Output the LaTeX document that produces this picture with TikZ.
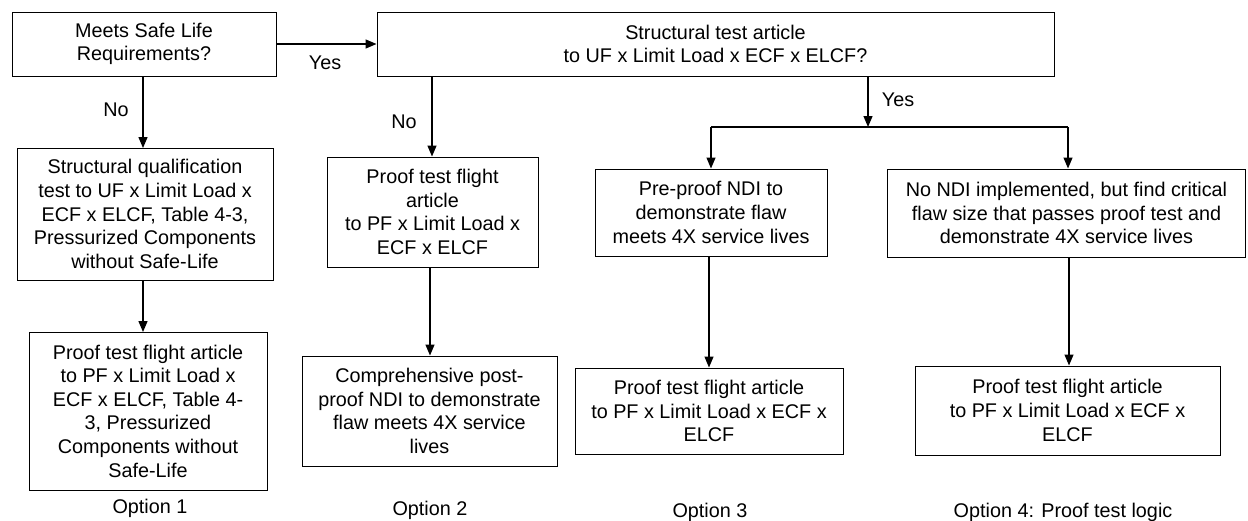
\documentclass[tikz,border=0pt]{standalone}
\usepackage{fontspec}
\setmainfont{Liberation Sans}
\usepackage{tikz}
\usetikzlibrary{arrows.meta,positioning}

\begin{document}
\begin{tikzpicture}[x=1pt,y=-1pt,
                box/.style={draw,line width=1pt,align=center,inner sep=0pt,font=\fontsize{19.8}{23.6}\selectfont},
                lbl/.style={font=\fontsize{19.8}{23.6}\selectfont,inner sep=0pt},
                flow/.style={line width=1.3pt,-{Triangle[length=11pt,width=9pt]}}]
                \useasboundingbox (0,0) rectangle (1248,520);

                % top row
                \node[box,minimum width=264,minimum height=64] (safe) at (144,44) {Meets Safe Life\\Requirements?};
                \node[box,minimum width=677,minimum height=64] (struct) at (715.5,44) {Structural test article\\to UF x Limit Load x ECF x ELCF?};

                % option 1
                \node[box,minimum width=256,minimum height=132] (qual) at (145,214) {Structural qualification\\test to UF x Limit Load x\\ECF x ELCF, Table 4-3,\\Pressurized Components\\without Safe-Life};
                \node[box,minimum width=238,minimum height=158] (proofA) at (148,411) {Proof test flight article\\to PF x Limit Load x\\ECF x ELCF, Table 4-\\3, Pressurized\\Components without\\Safe-Life};

                % option 2
                \node[box,minimum width=211,minimum height=110] (proofB) at (432.5,212) {Proof test flight\\article\\to PF x Limit Load x\\ECF x ELCF};
                \node[box,minimum width=255,minimum height=110] (postB) at (429.5,411) {Comprehensive post-\\proof NDI to demonstrate\\flaw meets 4X service\\lives};

                % option 3
                \node[box,minimum width=232,minimum height=87] (preC) at (711,212.5) {Pre-proof NDI to\\demonstrate flaw\\meets 4X service lives};
                \node[box,minimum width=268,minimum height=86] (proofC) at (709,411) {Proof test flight article\\to PF x Limit Load x ECF x\\ELCF};

                % option 4
                \node[box,minimum width=358,minimum height=88] (noNDI) at (1066.5,213) {No NDI implemented, but find critical\\flaw size that passes proof test and\\demonstrate 4X service lives};
                \node[box,minimum width=305,minimum height=89] (proofD) at (1067.5,410.5) {Proof test flight article\\to PF x Limit Load x ECF x\\ELCF};

                % branch points
                \coordinate (split) at (868,127);
                \coordinate (splitL) at (711,127);
                \coordinate (splitR) at (1068,127);

                \draw[flow] (safe) -- (struct);
                \draw[flow] (143,76) -- (143,148);
                \draw[flow] (qual.south -| 143,0) -- (143,332);
                \draw[flow] (struct.south -| 432,0) -- (proofB.north -| 432,0);
                \draw[flow] (proofB.south -| 430,0) -- (postB.north -| 430,0);
                \draw[flow] (struct.south -| split) -- (split);
                \draw[line width=1.3pt] (splitL) -- (splitR);
                \draw[flow] (splitL) -- (preC.north -| splitL);
                \draw[flow] (splitR) -- (noNDI.north -| splitR);
                \draw[flow] (preC.south -| 709,0) -- (proofC.north -| 709,0);
                \draw[flow] (noNDI.south -| 1069,0) -- (proofD.north -| 1069,0);

                % branch labels
                \node[lbl] (yes1) at (325,63) {Yes};
                \node[lbl] (no1) at (116,110) {No};
                \node[lbl] (no2) at (404,122) {No};
                \node[lbl] (yes2) at (898,100) {Yes};

                % option captions
                \node[lbl] (opt1) at (150,508) {Option 1};
                \node[lbl] (opt2) at (430,510) {Option 2};
                \node[lbl] (opt3) at (710,512) {Option 3};
                \node[lbl] (opt4) at (1063,512) {Option 4: Proof test logic};
            \end{tikzpicture}
\end{document}
